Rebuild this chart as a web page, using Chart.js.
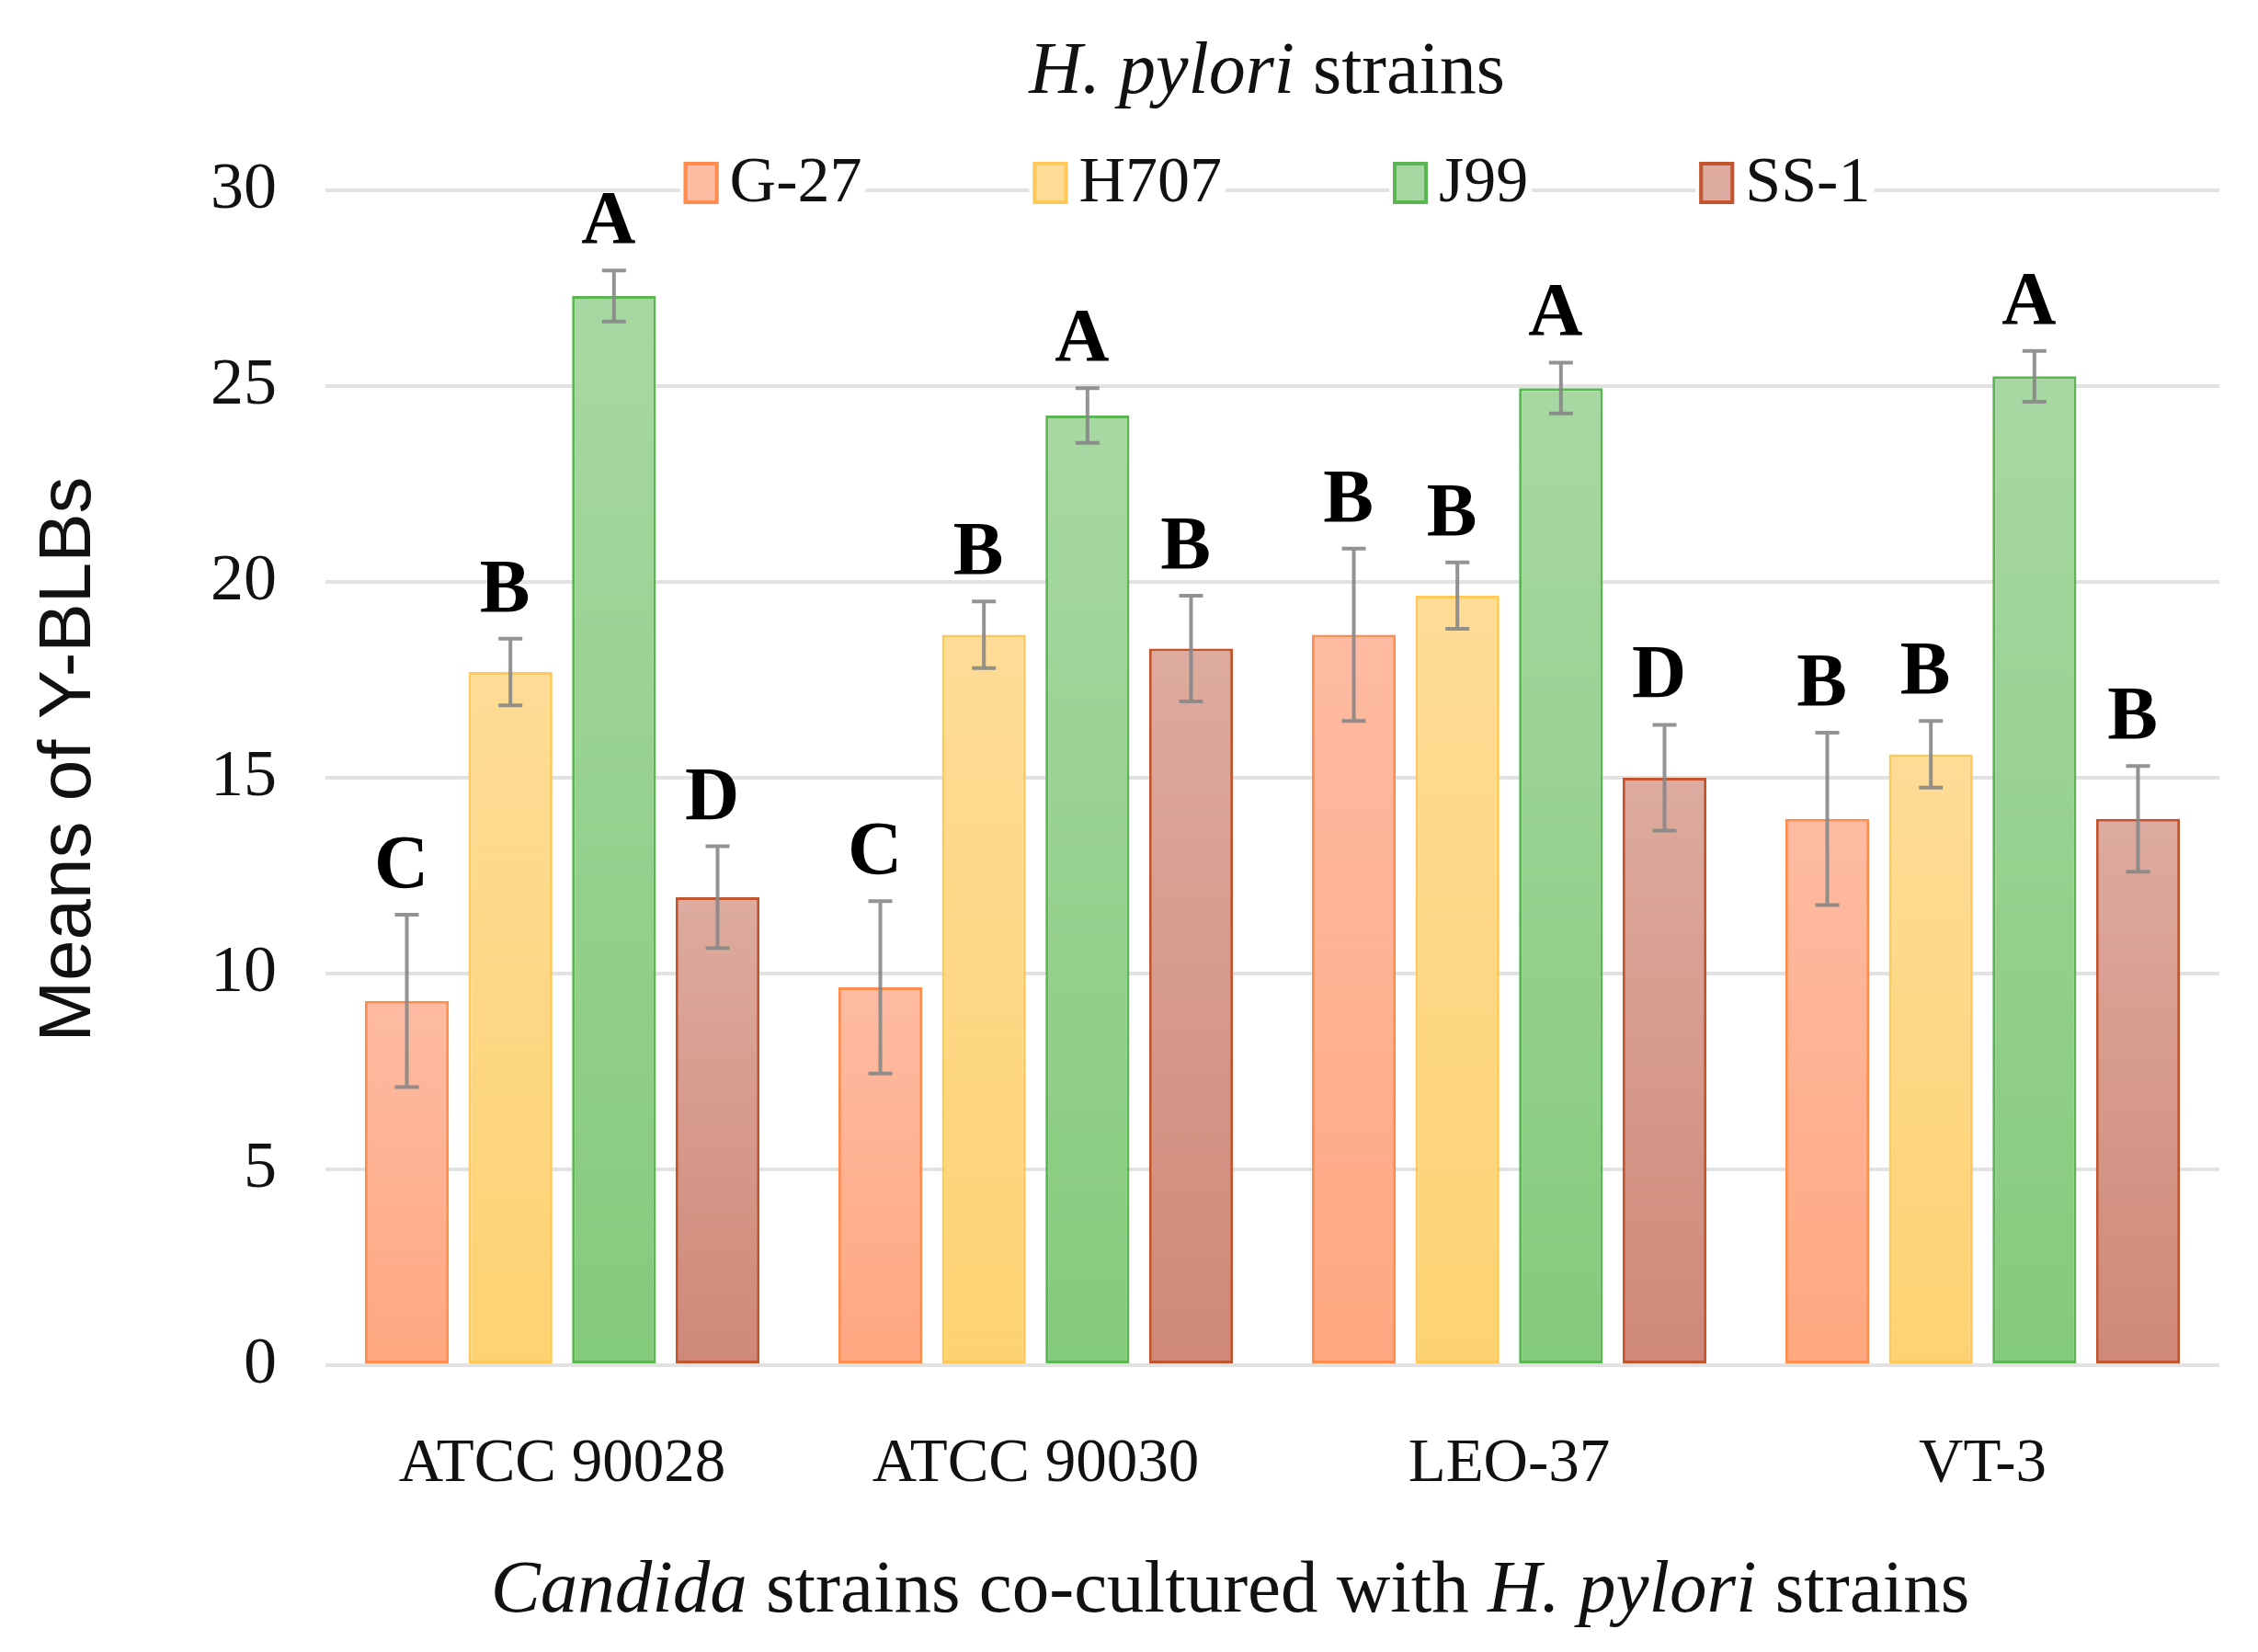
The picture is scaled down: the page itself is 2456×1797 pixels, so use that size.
<!DOCTYPE html>
<html lang="en">
<head>
    <meta charset="UTF-8">
    <title>Y-BLBs by Candida and H. pylori strains</title>
    <script src="https://cdn.jsdelivr.net/npm/chart.js@4.4.1/dist/chart.umd.min.js"></script>
    <style>
        html, body{
            margin: 0;
            padding: 0;
            background: #fff;
        }
        canvas{
            display: block;
        }
    </style>
</head>
<body>
    <canvas id="chartCanvas" width="2456" height="1797"></canvas>

    <script>
        // candida strains (x axis) and H. pylori strains (series)
        var categories = ['ATCC 90028', 'ATCC 90030', 'LEO-37', 'VT-3'];
        var strains = ['G-27', 'H707', 'J99', 'SS-1'];

        var g27 = [9.3, 9.65, 18.65, 13.95];
        var h707 = [17.7, 18.65, 19.65, 15.6];
        var j99 = [27.3, 24.25, 24.95, 25.25];
        var ss1 = [11.95, 18.3, 15.0, 13.95];

        var g27Err = [2.2, 2.2, 2.2, 2.2];
        var h707Err = [0.85, 0.85, 0.85, 0.85];
        var j99Err = [0.65, 0.7, 0.65, 0.65];
        var ss1Err = [1.3, 1.35, 1.35, 1.35];

        var g27Letters = ['C', 'C', 'B', 'B'];
        var h707Letters = ['B', 'B', 'B', 'B'];
        var j99Letters = ['A', 'A', 'A', 'A'];
        var ss1Letters = ['D', 'B', 'D', 'B'];

        var yTicks = [0, 5, 10, 15, 20, 25, 30];

        var serif = "'Liberation Serif', 'Times New Roman', serif";
        var sans = "'Liberation Sans', Arial, sans-serif";

        // light (top) / deep (bottom) fill and outline for each strain
        var palette = [
            { top: '#FDBBA2', bottom: '#FFA780', line: '#FF8B4D' },
            { top: '#FEDC96', bottom: '#FDD272', line: '#FFC95A' },
            { top: '#A8D8A2', bottom: '#84CA7B', line: '#5CB553' },
            { top: '#DDAB9F', bottom: '#CF8877', line: '#C2552E' }
        ];

        function barFill(index) {
            return function(context) {
                var chart = context.chart;
                var c = palette[index];
                if (!chart.chartArea || context.raw === undefined) {
                    return c.top;
                }
                var y = chart.scales.y;
                var g = chart.ctx.createLinearGradient(0, y.getPixelForValue(context.raw), 0, y.getPixelForValue(0));
                g.addColorStop(0, c.top);
                g.addColorStop(1, c.bottom);
                return g;
            };
        }

        function makeDataset(i, values, errors, letters) {
            return {
                label: strains[i],
                data: values,
                errors: errors,
                letters: letters,
                backgroundColor: barFill(i),
                borderColor: palette[i].line,
                borderWidth: 3,
                borderSkipped: false,
                categoryPercentage: 0.875,
                barPercentage: 0.81
            };
        }

        function drawRich(ctx, parts, cx, cy, size) {
            var widths = parts.map(function(p) {
                ctx.font = (p.italic ? 'italic ' : '') + size + 'px ' + serif;
                return ctx.measureText(p.text).width;
            });
            var total = widths.reduce(function(a, b) { return a + b; }, 0);
            var x = cx - total / 2;
            ctx.textBaseline = 'middle';
            ctx.textAlign = 'left';
            ctx.fillStyle = '#111';
            parts.forEach(function(p, k) {
                ctx.font = (p.italic ? 'italic ' : '') + size + 'px ' + serif;
                ctx.fillText(p.text, x, cy);
                x += widths[k];
            });
        }

        var extras = {
            id: 'extras',
            afterDatasetsDraw: function(chart) {
                var ctx = chart.ctx;
                var y = chart.scales.y;
                ctx.save();
                chart.data.datasets.forEach(function(ds, i) {
                    var meta = chart.getDatasetMeta(i);
                    meta.data.forEach(function(bar, j) {
                        var v = ds.data[j];
                        var e = ds.errors[j];
                        var hi = y.getPixelForValue(v + e);
                        var lo = y.getPixelForValue(v - e);
                        ctx.strokeStyle = 'rgba(135, 135, 135, 0.9)';
                        ctx.lineWidth = 4;
                        ctx.beginPath();
                        ctx.moveTo(bar.x, hi);
                        ctx.lineTo(bar.x, lo);
                        ctx.moveTo(bar.x - 13, hi);
                        ctx.lineTo(bar.x + 13, hi);
                        ctx.moveTo(bar.x - 13, lo);
                        ctx.lineTo(bar.x + 13, lo);
                        ctx.stroke();

                        ctx.fillStyle = '#000';
                        ctx.font = 'bold 82px ' + serif;
                        ctx.textAlign = 'center';
                        ctx.textBaseline = 'alphabetic';
                        ctx.fillText(ds.letters[j], bar.x - 6, hi - 30);
                    });
                });
                ctx.restore();
            },
            afterDraw: function(chart) {
                var ctx = chart.ctx;
                var area = chart.chartArea;
                ctx.save();

                // legend sitting on the top grid line
                var size = 70;
                ctx.font = size + 'px ' + serif;
                var boxW = 38, boxH = 46, gap = 12, pad = 186;
                var widths = strains.map(function(s) { return ctx.measureText(s).width; });
                var total = widths.reduce(function(a, b) { return a + b + boxW + gap; }, 0) + pad * (strains.length - 1);
                var x = 1389 - total / 2;
                var ly = 199;
                strains.forEach(function(s, i) {
                    var w = boxW + gap + widths[i];
                    ctx.fillStyle = '#fff';
                    ctx.fillRect(x - 4, ly - 30, w + 8, 60);
                    ctx.fillStyle = palette[i].top;
                    ctx.fillRect(x, ly - boxH / 2, boxW, boxH);
                    ctx.strokeStyle = palette[i].line;
                    ctx.lineWidth = 4;
                    ctx.strokeRect(x + 2, ly - boxH / 2 + 2, boxW - 4, boxH - 4);
                    ctx.fillStyle = '#111';
                    ctx.font = size + 'px ' + serif;
                    ctx.textAlign = 'left';
                    ctx.textBaseline = 'middle';
                    ctx.fillText(s, x + boxW + gap, ly + 2);
                    x += w + pad;
                });

                drawRich(ctx, [
                    { text: 'H. pylori', italic: true },
                    { text: ' strains', italic: false }
                ], 1378, 80, 80);

                drawRich(ctx, [
                    { text: 'Candida', italic: true },
                    { text: ' strains co-cultured with ', italic: false },
                    { text: 'H. pylori', italic: true },
                    { text: ' strains', italic: false }
                ], 1338, 1732, 81);

                // y axis title
                ctx.translate(76, 826);
                ctx.rotate(-Math.PI / 2);
                ctx.fillStyle = '#111';
                ctx.font = '80px ' + sans;
                ctx.textAlign = 'center';
                ctx.textBaseline = 'middle';
                ctx.fillText('Means of Y-BLBs', 0, 0);

                ctx.restore();
            }
        };

        const ctx = document.getElementById('chartCanvas').getContext('2d');
        const chart = new Chart(ctx, {
            type: 'bar',
            data: {
                labels: categories,
                datasets: [
                    makeDataset(0, g27, g27Err, g27Letters),
                    makeDataset(1, h707, h707Err, h707Letters),
                    makeDataset(2, j99, j99Err, j99Letters),
                    makeDataset(3, ss1, ss1Err, ss1Letters)
                ]
            },
            options: {
                responsive: false,
                devicePixelRatio: 1,
                animation: false,
                layout: {
                    padding: { top: 207, right: 42, left: 0, bottom: 0 }
                },
                plugins: {
                    legend: { display: false },
                    tooltip: { enabled: false }
                },
                scales: {
                    x: {
                        grid: { display: false, drawTicks: false },
                        border: { display: false },
                        ticks: {
                            padding: 68,
                            color: '#111',
                            font: { family: serif, size: 67 }
                        },
                        afterFit: function(scale) { scale.height = 312; }
                    },
                    y: {
                        min: 0,
                        max: 30,
                        afterBuildTicks: function(scale) {
                            scale.ticks = yTicks.map(function(v) { return { value: v }; });
                        },
                        grid: { color: '#E2E2E2', lineWidth: 4, drawTicks: false },
                        border: { display: false },
                        ticks: {
                            padding: 53,
                            color: '#111',
                            font: { family: serif, size: 72 }
                        },
                        afterFit: function(scale) { scale.width = 354; }
                    }
                }
            },
            plugins: [extras]
        });
    </script>
</body>
</html>
